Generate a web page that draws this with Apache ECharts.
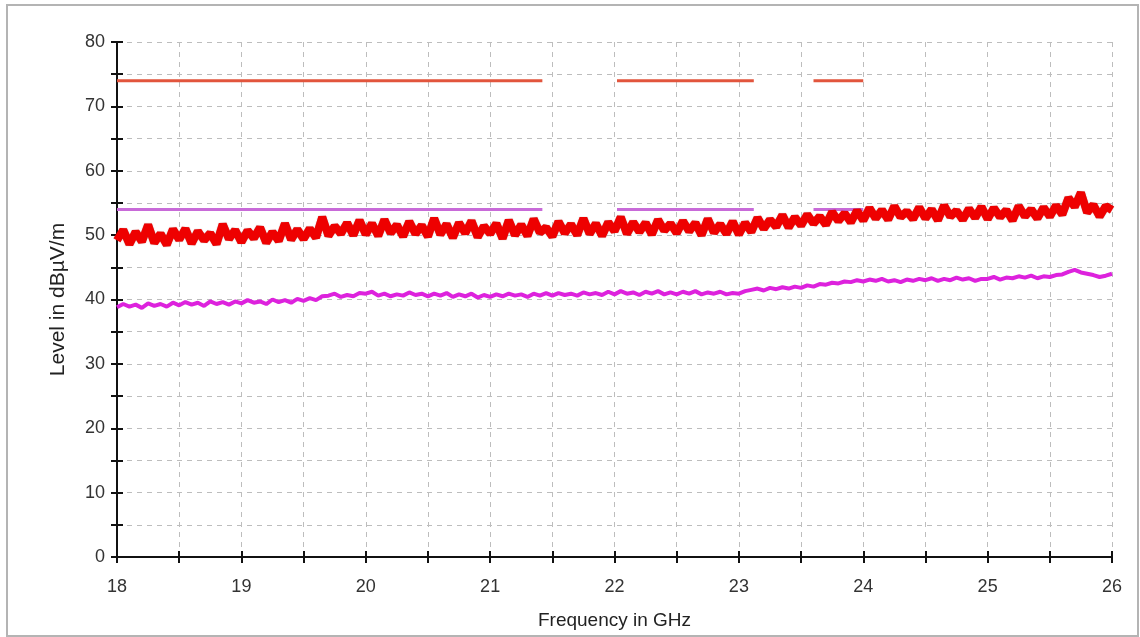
<!DOCTYPE html>
<html>
<head>
<meta charset="utf-8">
<script src="https://cdn.jsdelivr.net/npm/echarts@6/dist/echarts.min.js"></script>
<style>
    html, body { margin: 0; padding: 0; background: #fff; }
    #chart { width: 1140px; height: 637px; }
</style>
</head>
<body>
<div id="chart"></div>
<script>
// sweep: 18 GHz upward, one point each 0.05 GHz
var freqStart = 18;
var freqStep = 0.05;

// peak trace (red), dBµV/m
var peakTrace = [
    49.2, 50.8, 48.6, 50.5, 49.0, 51.6, 48.8, 50.2, 48.5, 50.9,
    49.3, 51.0, 48.7, 50.6, 49.2, 50.3, 48.6, 51.7, 49.4, 50.8,
    48.9, 50.7, 49.5, 51.2, 48.8, 50.5, 49.1, 51.8, 49.3, 50.9,
    49.4, 51.0, 49.6, 52.8, 49.9, 51.4, 50.2, 51.9, 50.0, 52.3,
    50.1, 51.8, 49.9, 52.4, 50.3, 51.6, 49.8, 52.1, 50.2, 51.5,
    49.8, 52.6, 50.1, 51.7, 49.6, 51.9, 50.3, 52.2, 49.7, 51.4,
    50.2, 51.8, 49.5, 52.3, 50.0, 51.6, 49.9, 52.5, 50.4, 51.2,
    49.8, 52.1, 50.3, 51.7, 50.0, 52.6, 50.2, 51.8, 49.9, 52.0,
    50.6, 52.8, 50.2, 52.0, 50.5, 51.9, 50.1, 52.4, 50.7, 51.8,
    50.3, 52.2, 50.6, 51.9, 50.0, 52.5, 50.4, 51.7, 50.2, 52.1,
    50.1, 51.9, 50.5, 52.7, 51.0, 52.4, 51.3, 53.1, 51.2, 52.8,
    51.5, 53.2, 51.8, 52.9, 51.6, 53.6, 52.2, 53.4, 52.0, 53.8,
    52.3, 54.2, 52.6, 53.9, 52.4, 54.5, 52.8, 53.7, 52.5, 54.3,
    52.6, 54.0, 52.3, 54.6, 52.9, 53.8, 52.4, 54.1, 52.7, 54.4,
    52.5, 54.2, 52.8, 53.9, 52.3, 54.5, 52.9, 54.0, 52.6, 54.3,
    52.9, 54.6, 53.2, 55.8, 54.4, 56.6, 53.5, 54.7, 52.9, 54.5,
    53.9
];

// average trace (magenta), dBµV/m
var avgTrace = [
    38.8, 39.3, 38.9, 39.2, 38.7, 39.4, 39.0, 39.3, 38.9, 39.5,
    39.1, 39.6, 39.2, 39.5, 39.0, 39.7, 39.3, 39.6, 39.2, 39.7,
    39.4, 39.9, 39.5, 39.7, 39.3, 40.0, 39.6, 39.9, 39.5, 40.1,
    39.8, 40.2, 39.9, 40.5, 40.6, 40.9, 40.4, 40.7, 40.5, 41.0,
    40.9, 41.2, 40.6, 40.9, 40.5, 40.8, 40.6, 41.1, 40.7, 40.9,
    40.5, 40.9, 40.6, 41.0, 40.4, 40.8, 40.5, 40.9, 40.3, 40.7,
    40.4, 40.8, 40.5, 40.9, 40.6, 40.8, 40.4, 40.9, 40.6, 41.0,
    40.6, 41.0, 40.7, 40.9, 40.6, 41.1, 40.8, 41.0, 40.7, 41.2,
    40.8, 41.3, 40.9, 41.1, 40.7, 41.2, 40.9, 41.3, 40.8, 41.1,
    40.8, 41.2, 40.9, 41.3, 40.8, 41.1, 40.9, 41.2, 40.8, 41.0,
    40.9, 41.3, 41.5, 41.7, 41.4, 41.8, 41.6, 41.9, 41.7, 42.0,
    41.8, 42.2, 42.0, 42.4, 42.3, 42.6, 42.5, 42.8, 42.7, 43.0,
    42.8, 43.1, 42.9, 43.2, 42.8, 43.0, 42.7, 43.1, 42.9, 43.2,
    43.0, 43.3, 42.9, 43.2, 43.0, 43.4, 43.1, 43.3, 42.9, 43.2,
    43.2, 43.5, 43.1, 43.4, 43.3, 43.6, 43.4, 43.7, 43.3, 43.6,
    43.5, 43.8, 43.9, 44.3, 44.6, 44.2, 44.0, 43.8, 43.5, 43.7,
    44.0
];

// limit lines, drawn only over these bands
var limitStarts = [18, 22.02, 23.6];
var limitEnds = [21.42, 23.12, 24.0];
var peakLimit = 74;
var avgLimit = 54;

var xTicks = [18, 19, 20, 21, 22, 23, 24, 25, 26];
var yTicks = [0, 10, 20, 30, 40, 50, 60, 70, 80];

var myChart = echarts.init(document.getElementById("chart"));
var fontName = "Liberation Sans";

function toPairs(values){
    var out = [];
    for(var i = 0; i < values.length; i++){
        out.push([+(freqStart + i * freqStep).toFixed(2), values[i]]);
    }
    return out;
}

function limitData(level){
    var out = [];
    for(var i = 0; i < limitStarts.length; i++){
        out.push([limitStarts[i], level]);
        out.push([limitEnds[i], level]);
        out.push([limitEnds[i], "-"]);
    }
    return out;
}

function getOption(){
    var grid = { left: 117, right: 28, top: 42, bottom: 80 };
    var option = {
        animation: false,
        backgroundColor: "#fff",
        grid: grid,
        graphic: [{
            type: "rect",
            shape: { x: 7, y: 5, width: 1131, height: 631 },
            style: { fill: "none", stroke: "#b4b4b4", lineWidth: 2 },
            silent: true
        }],
        xAxis: [{
            type: "value",
            min: 18,
            max: 26,
            interval: 0.5,
            name: "Frequency in GHz",
            nameLocation: "middle",
            nameGap: 54,
            nameTextStyle: { color: "#222", fontSize: 19, fontFamily: fontName },
            axisLine: { onZero: false, lineStyle: { color: "#111", width: 2 } },
            axisTick: { show: true, length: 6, lineStyle: { color: "#111", width: 2 } },
            axisLabel: {
                margin: 21,
                color: "#333",
                fontSize: 18,
                fontFamily: fontName,
                formatter: function(v){
                    return xTicks.indexOf(v) >= 0 ? String(v) : "";
                }
            },
            splitLine: { show: true, lineStyle: { color: "#bdbdbd", type: [5, 5], width: 1 } }
        }, {
            type: "value",
            min: 18,
            max: 26,
            interval: 0.5,
            position: "bottom",
            axisLine: { show: false },
            axisTick: { show: true, inside: true, length: 6, lineStyle: { color: "#111", width: 2 } },
            axisLabel: { show: false },
            splitLine: { show: false }
        }],
        yAxis: [{
            type: "value",
            min: 0,
            max: 80,
            interval: 5,
            name: "Level in dBµV/m",
            nameLocation: "middle",
            nameGap: 48,
            nameTextStyle: { color: "#222", fontSize: 21, fontFamily: fontName },
            axisLine: { show: true, lineStyle: { color: "#111", width: 2 } },
            axisTick: { show: true, length: 6, lineStyle: { color: "#111", width: 2 } },
            axisLabel: {
                margin: 12,
                color: "#333",
                fontSize: 18,
                fontFamily: fontName,
                formatter: function(v){
                    return yTicks.indexOf(v) >= 0 ? String(v) : "";
                }
            },
            splitLine: { show: true, lineStyle: { color: "#bdbdbd", type: [5, 5], width: 1 } }
        }, {
            type: "value",
            min: 0,
            max: 80,
            interval: 5,
            position: "left",
            axisLine: { show: false },
            axisTick: { show: true, inside: true, length: 6, lineStyle: { color: "#111", width: 2 } },
            axisLabel: { show: false },
            splitLine: { show: false }
        }],
        series: []
    };

    option.series.push({
        name: "Peak limit",
        type: "line",
        data: limitData(peakLimit),
        symbol: "none",
        connectNulls: false,
        lineStyle: { color: "#e2553d", width: 3 }
    });
    option.series.push({
        name: "Average limit",
        type: "line",
        data: limitData(avgLimit),
        symbol: "none",
        connectNulls: false,
        lineStyle: { color: "#c86ad8", width: 3 }
    });
    option.series.push({
        name: "Peak",
        type: "line",
        data: toPairs(peakTrace),
        symbol: "none",
        lineStyle: { color: "#ee0000", width: 8, join: "bevel", shadowColor: "rgba(120,0,0,0.5)", shadowBlur: 1 }
    });
    option.series.push({
        name: "Average",
        type: "line",
        data: toPairs(avgTrace),
        symbol: "none",
        lineStyle: { color: "#dd22dd", width: 4 }
    });

    return option;
}

myChart.setOption(getOption());
window.onresize = myChart.resize;
</script>
</body>
</html>
